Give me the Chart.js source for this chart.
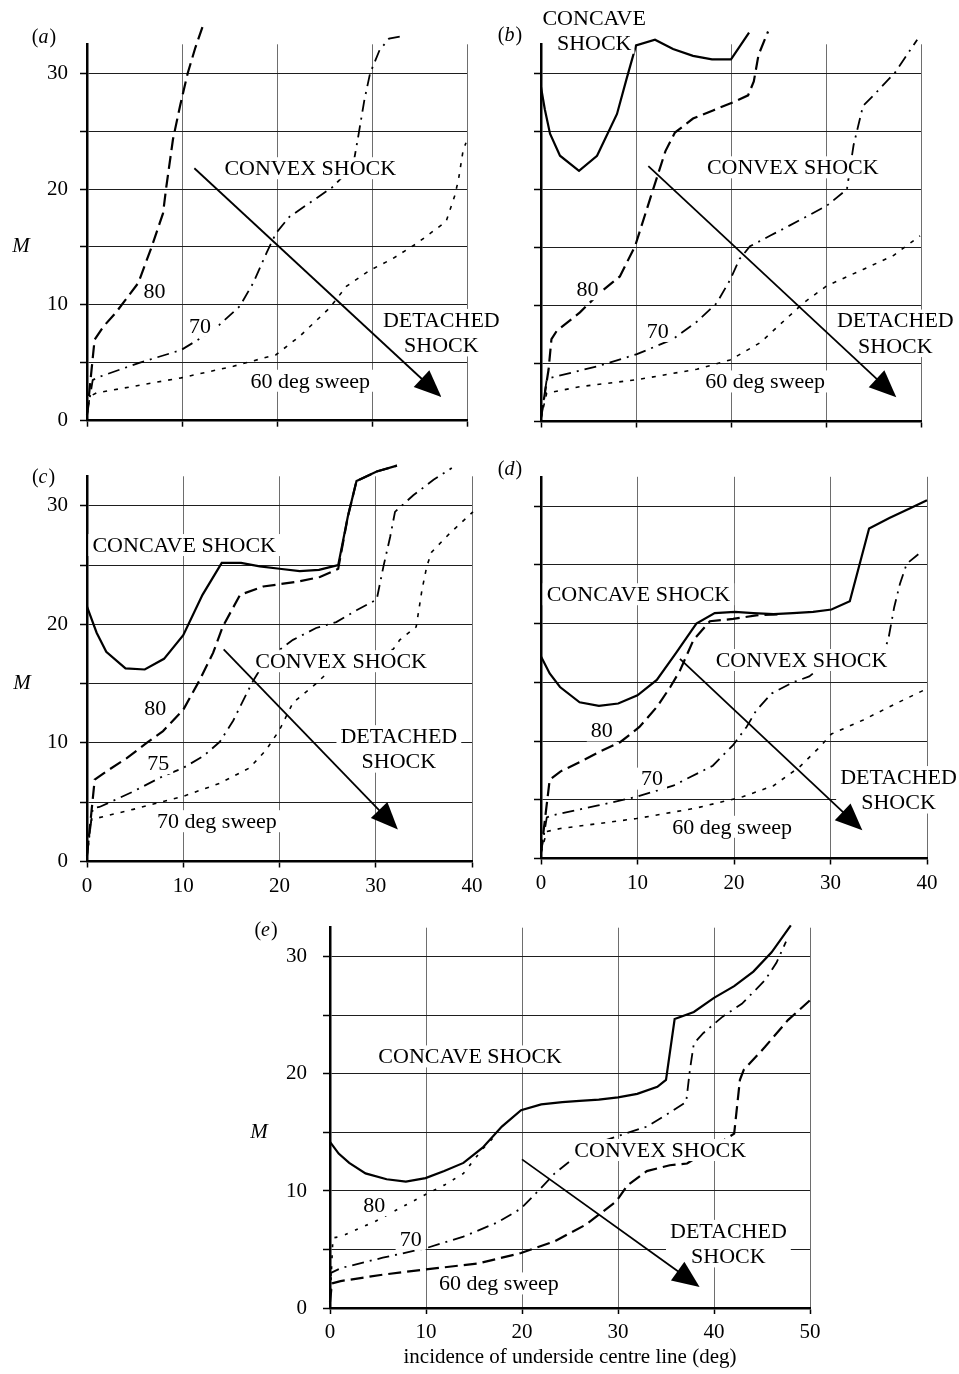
<!DOCTYPE html>
<html>
<head>
<meta charset="utf-8">
<script src="https://cdn.jsdelivr.net/npm/chart.js@4.4.1/dist/chart.umd.min.js"></script>
<style>
  html, body { margin: 0; padding: 0; background: #fff; }
  #page { position: relative; width: 959px; height: 1374px; overflow: hidden; background: #fff; }
  #page canvas { position: absolute; }
</style>
</head>
<body>
<div id="page">
  <canvas id="pa"></canvas>
  <canvas id="pb"></canvas>
  <canvas id="pc"></canvas>
  <canvas id="pd"></canvas>
  <canvas id="pe"></canvas>
</div>
<script>
const SERIF = "'Liberation Serif', 'Times New Roman', serif";
Chart.defaults.font.family = SERIF;
Chart.defaults.font.size = 21;
Chart.defaults.color = '#000';

// ---- axes ----
const Y_MAX = 32.5;
const yTickValues = [0, 5, 10, 15, 20, 25, 30];
const yLabelledValues = [0, 10, 20, 30];
const xTicks40 = [0, 10, 20, 30, 40];
const xTicks50 = [0, 10, 20, 30, 40, 50];
const xTitleE = 'incidence of underside centre line (deg)';

// ---- (a) sweep 80 / 70 / 60 ----
const a80 = [[0,0.5],[0.8,7.0],[1.7,8.1],[3.1,9.4],[5.4,11.9],[6.8,15.0],[8.0,17.9],[8.35,20.2],[9.05,24.3],[9.8,27.2],[10.6,30.0],[11.4,32.2],[12.2,34.1]];
const a70 = [[0,0.5],[0.6,3.5],[1.0,3.7],[5.5,5.0],[9.9,6.1],[13.3,7.8],[16.1,9.9],[17.5,11.9],[18.9,14.5],[19.9,16.2],[21.3,17.6],[23.6,18.9],[25.9,20.2],[28.0,22.0],[28.5,24.3],[29.2,27.7],[29.8,30.0],[30.8,32.0],[31.8,33.0],[33.1,33.2]];
const a60 = [[0,0.5],[0.3,2.1],[1.0,2.4],[9.9,3.7],[15.4,4.7],[19.9,5.7],[22.4,7.3],[25.5,9.7],[27.3,11.6],[29.8,13.0],[32.2,14.0],[34.7,15.3],[37.8,17.2],[38.7,19.4],[39.1,20.8],[39.6,23.4],[39.9,24.0]];

// ---- (b) concave boundary, sweep 80 / 70 / 60 ----
const bConcave = [[0,28.8],[0.4,26.9],[0.95,24.8],[2.0,22.9],[4.0,21.6],[5.9,22.9],[8.0,26.5],[9.0,29.5],[10.0,32.4],[12.0,32.9],[13.9,32.1],[16.0,31.5],[18.0,31.2],[20.0,31.2],[21.9,33.5]];
const b80 = [[0,0.3],[0.8,4.5],[1.1,7.1],[1.65,7.8],[4.1,9.4],[6.2,11.1],[8.3,12.5],[9.9,15.1],[11.8,20.0],[13.1,23.3],[14.1,24.9],[16.0,26.1],[18.1,26.8],[20.2,27.5],[21.8,28.1],[22.4,29.3],[22.9,31.6],[23.9,33.6]];
const b70 = [[0,0.3],[0.6,3.6],[0.95,3.75],[5.9,4.75],[10.1,5.8],[13.9,7.1],[16.4,8.6],[18.5,10.2],[19.9,12.2],[20.9,14.0],[22.0,15.1],[24.1,16.0],[26.2,16.9],[30.1,18.6],[32.2,20.0],[32.9,23.8],[33.4,25.5],[33.9,27.2],[35.0,28.1],[37.3,30.1],[39.6,32.9]];
const b60 = [[0,0.3],[0.6,2.45],[4.1,3.0],[10.1,3.6],[16.4,4.5],[19.9,5.3],[23.1,6.8],[27.6,10.2],[30.1,11.7],[33.9,13.1],[37.1,14.3],[39.9,16.0]];

// ---- (c) concave boundary, sweep 80 / 75 / 70 ----
const cConcave = [[0,21.5],[1.0,19.3],[2.0,17.7],[4.0,16.3],[6.0,16.2],[8.0,17.1],[10.0,19.1],[12.0,22.5],[14.0,25.2],[16.0,25.2],[17.95,24.9],[20.0,24.7],[22.1,24.5],[24.1,24.6],[26.1,25.0],[27.1,29.1],[28.0,32.1],[30.1,32.9],[32.2,33.4]];
const c80 = [[0,0.5],[0.8,6.9],[2.0,7.6],[4.1,8.7],[6.2,10.0],[7.9,11.0],[10.0,12.8],[11.7,15.3],[13.1,17.6],[14.1,19.8],[15.9,22.5],[18.3,23.2],[21.8,23.6],[24.2,24.0],[26.1,24.7],[27.1,29.1],[28.0,32.1],[30.1,32.9],[32.2,33.4]];
const c75 = [[0,0.5],[0.6,4.5],[1.3,4.6],[4.8,5.9],[7.9,7.2],[10.0,7.9],[12.1,8.9],[13.8,10.1],[15.2,11.9],[16.6,14.2],[17.3,15.3],[18.6,17.0],[20.4,18.1],[21.4,18.7],[23.8,19.7],[25.9,20.2],[28.0,21.2],[30.1,22.1],[30.8,24.9],[31.5,27.4],[32.0,29.5],[33.9,30.9],[36.0,32.2],[37.9,33.2]];
const c70 = [[0,0.5],[0.45,3.5],[1.0,3.65],[4.8,4.4],[10.0,5.5],[13.8,6.6],[16.9,7.9],[18.6,9.4],[20.0,11.1],[21.4,13.4],[23.8,15.0],[25.2,16.1],[31.8,17.9],[32.5,18.7],[34.2,19.8],[34.8,22.9],[35.3,24.9],[35.8,26.1],[37.7,27.7],[40.1,29.5],[40.6,30.2]];

// ---- (d) concave boundary, sweep 80 / 70 / 60 ----
const dConcave = [[0,17.2],[0.9,15.75],[1.97,14.6],[4.0,13.3],[6.0,13.0],[8.0,13.2],[10.0,13.9],[12.0,15.2],[14.0,17.5],[16.1,20.0],[18.0,20.9],[20.1,21.0],[22.0,20.9],[24.1,20.8],[26.1,20.9],[28.2,21.0],[30.1,21.2],[32.0,21.9],[34.0,28.1],[36.1,29.0],[38.2,29.8],[40.0,30.5]];
const d80 = [[0,0.5],[0.9,6.7],[2.0,7.4],[4.0,8.2],[6.1,9.1],[8.2,9.9],[10.2,11.2],[12.0,12.9],[13.4,14.6],[14.4,16.0],[15.8,18.6],[17.5,20.2],[19.9,20.4],[22.3,20.7],[24.7,20.8]];
const d70 = [[0,0.5],[0.6,3.5],[1.3,3.7],[5.8,4.5],[9.9,5.25],[13.7,6.2],[17.8,7.9],[19.9,9.65],[21.3,11.2],[22.3,12.6],[23.9,14.05],[26.1,15.0],[27.8,15.5],[29.0,16.3],[35.5,17.5],[36.0,18.7],[36.6,21.4],[37.2,23.4],[37.9,25.1],[39.4,26.1]];
const d60 = [[0,0.5],[0.6,2.3],[2.0,2.55],[9.9,3.4],[16.1,4.3],[20.9,5.25],[24.1,6.2],[26.8,7.8],[28.9,9.5],[30.1,10.6],[33.4,11.8],[36.8,13.2],[40.1,14.5]];

// ---- (e) concave boundary, sweep 80 / 70 / 60 ----
const eConcave = [[0,14.2],[0.9,13.2],[2.0,12.4],[3.7,11.5],[5.9,11.0],[7.9,10.8],[9.95,11.1],[11.9,11.7],[13.9,12.4],[15.9,13.7],[17.9,15.5],[19.9,16.9],[22.0,17.4],[24.2,17.6],[26.0,17.7],[28.0,17.8],[30.0,18.0],[32.0,18.3],[34.1,18.9],[35.0,19.5],[35.9,24.7],[37.9,25.3],[40.0,26.5],[42.1,27.5],[44.1,28.75],[46.0,30.4],[48.0,32.7]];
const e80 = [[0,0.5],[0.3,6.0],[1.1,6.1],[4.7,7.4],[7.9,8.8],[9.95,9.7],[11.9,10.5],[13.9,11.5],[15.8,13.5],[17.4,14.9]];
const e70 = [[0,0.5],[0.1,3.0],[1.1,3.4],[5.5,4.3],[9.95,5.1],[13.9,6.1],[17.4,7.3],[19.9,8.5],[21.8,10.1],[23.4,11.5],[25.4,12.8],[27.8,14.1],[30.0,14.7],[33.0,15.5],[35.3,16.65],[37.1,17.6],[37.5,20.4],[37.9,22.6],[38.9,23.5],[40.9,24.9],[42.9,26.0],[45.3,28.0],[46.5,29.5],[47.5,31.3]];
const e60 = [[0,0.5],[0.2,2.1],[1.1,2.3],[5.5,2.85],[9.95,3.3],[15.4,3.8],[19.9,4.7],[23.4,5.7],[26.6,7.1],[29.8,9.1],[31.0,10.5],[33.0,11.7],[35.4,12.2],[37.2,12.35],[42.1,14.9],[42.7,19.5],[43.1,20.35],[45.3,22.3],[47.7,24.6],[50.0,26.3]];

// ---- line styles ----
const STYLE = {
  solid:     { borderDash: [],            borderWidth: 2.2 },
  longDash:  { borderDash: [13, 6],       borderWidth: 2.2 },
  dashDot:   { borderDash: [12, 6, 2, 6], borderWidth: 1.8 },
  shortDash: { borderDash: [4, 7],        borderWidth: 1.6 },
  dotDash:   { borderDash: [3, 8],        borderWidth: 1.7 }
};

function series(points, style) {
  return Object.assign({
    data: points.map(([x, y]) => ({ x, y })),
    borderColor: '#000',
    pointRadius: 0,
    fill: false,
    clip: false,
    tension: 0,
    borderCapStyle: 'butt'
  }, STYLE[style]);
}

// ---- panels ----
const panels = [
  {
    id: 'pa', tag: 'a', canvas: { l: 0, t: 0, w: 530, h: 440 }, area: { l: 87, t: 44.3, r: 467, b: 420.7 },
    xMax: 40, xTicks: xTicks40, xLabels: false, yLabels: true, yPad: 12, tagAt: [-43, -7], mLeft: 66,
    lines: [[a80, 'longDash'], [a70, 'dashDot'], [a60, 'shortDash']],
    labels: [
      { text: 'CONVEX SHOCK', x: 23.5, y: 21.8 },
      { text: '80', x: 7.1, y: 11.2 },
      { text: '70', x: 11.9, y: 8.2 },
      { text: '60 deg sweep', x: 23.5, y: 3.45 },
      { text: 'DETACHED\nSHOCK', x: 37.3, y: 7.6 }
    ],
    arrow: [[11.3, 21.8], [37.3, 2.05]]
  },
  {
    id: 'pb', tag: 'b', canvas: { l: 480, t: 0, w: 479, h: 440 }, area: { l: 541, t: 44.3, r: 921, b: 421.5 },
    xMax: 40, xTicks: xTicks40, xLabels: false, yLabels: false, yPad: 12, tagAt: [-31, -9], mLeft: 0,
    lines: [[bConcave, 'solid'], [b80, 'longDash'], [b70, 'dashDot'], [b60, 'shortDash']],
    labels: [
      { text: 'CONCAVE\nSHOCK', x: 5.6, y: 33.65, rowBoxes: true },
      { text: 'CONVEX SHOCK', x: 26.5, y: 21.9 },
      { text: '80', x: 4.9, y: 11.4 },
      { text: '70', x: 12.3, y: 7.8 },
      { text: '60 deg sweep', x: 23.6, y: 3.45 },
      { text: 'DETACHED\nSHOCK', x: 37.3, y: 7.6 }
    ],
    arrow: [[11.3, 22.0], [37.4, 2.1]]
  },
  {
    id: 'pc', tag: 'c', canvas: { l: 0, t: 440, w: 530, h: 460 }, area: { l: 87, t: 476.3, r: 472, b: 861.5 },
    xMax: 40, xTicks: xTicks40, xLabels: true, yLabels: true, yPad: 12, tagAt: [-43.5, 1], mLeft: 65,
    lines: [[cConcave, 'solid'], [c80, 'longDash'], [c75, 'dashDot'], [c70, 'shortDash']],
    labels: [
      { text: 'CONCAVE SHOCK', x: 10.1, y: 26.7 },
      { text: 'CONVEX SHOCK', x: 26.4, y: 16.9 },
      { text: '80', x: 7.1, y: 12.9 },
      { text: '75', x: 7.4, y: 8.3 },
      { text: '70 deg sweep', x: 13.5, y: 3.4 },
      { text: 'DETACHED\nSHOCK', x: 32.4, y: 9.5 }
    ],
    arrow: [[14.2, 17.9], [32.3, 2.7]]
  },
  {
    id: 'pd', tag: 'd', canvas: { l: 480, t: 440, w: 479, h: 460 }, area: { l: 541, t: 476.8, r: 927, b: 858.5 },
    xMax: 40, xTicks: xTicks40, xLabels: true, yLabels: false, yPad: 12, tagAt: [-31, -7], mLeft: 0,
    lines: [[dConcave, 'solid'], [d80, 'longDash'], [d70, 'dashDot'], [d60, 'shortDash']],
    labels: [
      { text: 'CONCAVE SHOCK', x: 10.1, y: 22.5 },
      { text: 'CONVEX SHOCK', x: 27.0, y: 16.9 },
      { text: '80', x: 6.3, y: 10.9 },
      { text: '70', x: 11.5, y: 6.8 },
      { text: '60 deg sweep', x: 19.8, y: 2.7 },
      { text: 'DETACHED\nSHOCK', x: 37.05, y: 5.85 }
    ],
    arrow: [[14.4, 17.0], [33.3, 2.4]]
  },
  {
    id: 'pe', tag: 'e', canvas: { l: 200, t: 895, w: 680, h: 479 }, area: { l: 330, t: 927.7, r: 810, b: 1308 },
    xMax: 50, xTicks: xTicks50, xLabels: true, yLabels: true, yPad: 16, tagAt: [-64, 3], mLeft: 71, xTitle: xTitleE,
    lines: [[eConcave, 'solid'], [e80, 'dotDash'], [e70, 'dashDot'], [e60, 'longDash']],
    labels: [
      { text: 'CONCAVE SHOCK', x: 14.6, y: 21.5 },
      { text: 'CONVEX SHOCK', x: 34.4, y: 13.5 },
      { text: '80', x: 4.6, y: 8.8 },
      { text: '70', x: 8.4, y: 5.9 },
      { text: '60 deg sweep', x: 17.6, y: 2.1 },
      { text: 'DETACHED\nSHOCK', x: 41.5, y: 5.5 }
    ],
    arrow: [[20.0, 12.7], [38.5, 1.8]]
  }
];

const LINE_GAP = 25.5;
const LABEL_FONT = '22px ' + SERIF;

// Text boxes, arrow, panel letter and the M axis symbol
function decorPlugin(p) {
  return {
    id: 'decor',
    afterDatasetsDraw(chart) {
      const { ctx } = chart;
      const xs = chart.scales.x, ys = chart.scales.y;
      ctx.save();
      ctx.font = LABEL_FONT;
      ctx.textAlign = 'center';
      ctx.textBaseline = 'middle';
      for (const lb of p.labels) {
        const rows = lb.text.split('\n');
        const cx = xs.getPixelForValue(lb.x);
        const cy = ys.getPixelForValue(lb.y);
        const widths = rows.map(s => ctx.measureText(s).width);
        const w = Math.max(...widths);
        const h = (rows.length - 1) * LINE_GAP;
        ctx.fillStyle = '#fff';
        if (lb.rowBoxes) {
          rows.forEach((s, i) => {
            const ry = cy - h / 2 + i * LINE_GAP;
            ctx.fillRect(cx - widths[i] / 2 - 3, ry - 10, widths[i] + 6, 20);
          });
        } else {
          ctx.fillRect(cx - w / 2 - 4, cy - h / 2 - 11, w + 8, h + 22);
        }
        ctx.fillStyle = '#000';
        rows.forEach((s, i) => ctx.fillText(s, cx, cy - h / 2 + i * LINE_GAP + 1));
      }
      // arrow
      const [[ax1, ay1], [ax2, ay2]] = p.arrow;
      const x1 = xs.getPixelForValue(ax1), y1 = ys.getPixelForValue(ay1);
      const x2 = xs.getPixelForValue(ax2), y2 = ys.getPixelForValue(ay2);
      const ang = Math.atan2(y2 - y1, x2 - x1);
      const L = 27, W = 11.5;
      const c = Math.cos(ang), s = Math.sin(ang);
      const bx = x2 - L * c, by = y2 - L * s;
      ctx.strokeStyle = '#000';
      ctx.lineWidth = 1.8;
      ctx.setLineDash([]);
      ctx.beginPath();
      ctx.moveTo(x1, y1);
      ctx.lineTo(bx + 2 * c, by + 2 * s);
      ctx.stroke();
      ctx.fillStyle = '#000';
      ctx.beginPath();
      ctx.moveTo(x2, y2);
      ctx.lineTo(bx + W * s, by - W * c);
      ctx.lineTo(bx - W * s, by + W * c);
      ctx.closePath();
      ctx.fill();
      ctx.restore();
    },
    afterDraw(chart) {
      const { ctx, chartArea } = chart;
      const ys = chart.scales.y;
      ctx.save();
      ctx.fillStyle = '#000';
      ctx.textBaseline = 'middle';
      ctx.textAlign = 'left';
      // panel letter: upright brackets, italic letter
      const up = '20px ' + SERIF, it = 'italic 20px ' + SERIF;
      ctx.font = up; const wo = ctx.measureText('(').width; const wc = ctx.measureText(')').width;
      ctx.font = it; const wl = ctx.measureText(p.tag).width;
      const total = wo + wl + wc + 1;
      let tx = chartArea.left + p.tagAt[0] - total / 2;
      const ty = chartArea.top + p.tagAt[1];
      ctx.font = up; ctx.fillText('(', tx, ty); tx += wo;
      ctx.font = it; ctx.fillText(p.tag, tx, ty); tx += wl + 1;
      ctx.font = up; ctx.fillText(')', tx, ty);
      if (p.yLabels) {
        ctx.font = 'italic 21px ' + SERIF;
        ctx.textAlign = 'center';
        ctx.fillText('M', chartArea.left - p.mLeft, ys.getPixelForValue(15));
      }
      ctx.restore();
    }
  };
}

for (const p of panels) {
  const cv = document.getElementById(p.id);
  cv.width = p.canvas.w;
  cv.height = p.canvas.h;
  cv.style.left = p.canvas.l + 'px';
  cv.style.top = p.canvas.t + 'px';
  cv.style.width = p.canvas.w + 'px';
  cv.style.height = p.canvas.h + 'px';

  const yAxisW = p.area.l - p.canvas.l;
  const padTop = p.area.t - p.canvas.t;
  const padRight = p.canvas.l + p.canvas.w - p.area.r;
  const xAxisH = p.canvas.t + p.canvas.h - p.area.b;

  new Chart(cv, {
    type: 'line',
    data: { datasets: p.lines.map(([pts, st]) => series(pts, st)) },
    options: {
      responsive: false,
      animation: false,
      events: [],
      layout: { padding: { left: 0, top: padTop, right: padRight, bottom: 0 } },
      plugins: { legend: { display: false }, tooltip: { enabled: false } },
      scales: {
        x: {
          type: 'linear', min: 0, max: p.xMax,
          afterBuildTicks: s => { s.ticks = p.xTicks.map(v => ({ value: v })); },
          afterFit: s => { s.height = xAxisH; s.paddingLeft = 0; s.paddingRight = 0; },
          grid: { color: '#6e6e6e', lineWidth: 1, drawTicks: true, tickLength: 6, tickColor: '#000', tickWidth: 1.5 },
          border: { color: '#000', width: 2.5 },
          ticks: {
            autoSkip: false, maxRotation: 0, padding: 6, color: '#000', font: { size: 21 },
            callback: v => (p.xLabels ? String(v) : '')
          },
          title: p.xTitle ? { display: true, text: p.xTitle, color: '#000', font: { size: 21 }, padding: { top: 0, bottom: 4 } } : { display: false }
        },
        y: {
          type: 'linear', min: 0, max: Y_MAX,
          afterBuildTicks: s => { s.ticks = yTickValues.map(v => ({ value: v })); },
          afterFit: s => { s.width = yAxisW; s.paddingTop = 0; s.paddingBottom = 0; },
          grid: { color: '#1e1e1e', lineWidth: 1, drawTicks: true, tickLength: 7, tickColor: '#000', tickWidth: 1.5 },
          border: { color: '#000', width: 2.5 },
          ticks: {
            autoSkip: false, padding: p.yPad, color: '#000', font: { size: 21 },
            callback: v => (p.yLabels && yLabelledValues.includes(v) ? String(v) : '')
          }
        }
      }
    },
    plugins: [decorPlugin(p)]
  });
}
</script>
</body>
</html>
